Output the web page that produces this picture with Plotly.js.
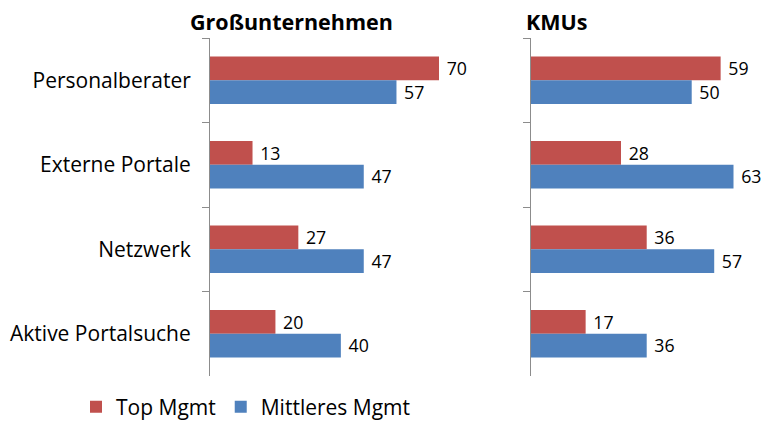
<!DOCTYPE html>
<html>
<head>
<meta charset="utf-8">
<script src="https://cdn.plot.ly/plotly-3.0.1.min.js"></script>
<style>html,body{margin:0;padding:0;background:#fff;}#chart{width:766px;height:428px;}</style>
</head>
<body>
<div id="chart"></div>
<script>
const categories = ["Personalberater", "Externe Portale", "Netzwerk", "Aktive Portalsuche"];
const grossTop = [70, 13, 27, 20];
const grossMittel = [57, 47, 47, 40];
const kmuTop = [59, 28, 36, 17];
const kmuMittel = [50, 63, 57, 36];
const seriesNames = ["Top Mgmt", "Mittleres Mgmt"];
const panelTitles = ["Großunternehmen", "KMUs"];

const RED = "#C0504D", BLUE = "#4F81BD";
const FONT = "Open Sans, Noto Sans, sans-serif";
const W = 766;

function bar(x, name, color, xa, ya, show) {
  return {
    type: "bar", orientation: "h", y: categories, x: x, name: name,
    marker: {color: color}, xaxis: xa, yaxis: ya, showlegend: show,
    text: x.map(v => " " + v), textposition: "outside", cliponaxis: false,
    textfont: {family: FONT, size: 21, color: "#000"}, hoverinfo: "skip"
  };
}

const data = [
  bar(grossTop, seriesNames[0], RED, "x", "y", true),
  bar(grossMittel, seriesNames[1], BLUE, "x", "y", true),
  bar(kmuTop, seriesNames[0], RED, "x2", "y2", false),
  bar(kmuMittel, seriesNames[1], BLUE, "x2", "y2", false)
];

const yaxisBase = {
  autorange: "reversed", showline: true, linecolor: "#8c8c8c", linewidth: 1,
  ticks: "outside", tickson: "boundaries", ticklen: 7, tickcolor: "#8c8c8c",
  showgrid: false, zeroline: false, fixedrange: true,
  tickfont: {family: FONT, size: 21, color: "#000"}
};

const layout = {
  width: 766, height: 428,
  margin: {l: 0, r: 0, t: 38, b: 48},
  paper_bgcolor: "#fff", plot_bgcolor: "#fff",
  barmode: "group", bargap: 0.44, bargroupgap: 0,
  font: {family: FONT, color: "#000"},
  xaxis: {domain: [210 / W, 439 / W], range: [0, 70], visible: false, fixedrange: true},
  xaxis2: {domain: [531 / W, 756 / W], range: [0, 70], visible: false, fixedrange: true},
  yaxis: Object.assign({}, yaxisBase, {anchor: "x", ticklabelstandoff: 14}),
  yaxis2: Object.assign({}, yaxisBase, {anchor: "x2", showticklabels: false}),
  legend: {
    orientation: "h", x: 76 / W, xanchor: "left", y: -0.092, yanchor: "middle",
    font: {family: FONT, size: 21, color: "#000"}, traceorder: "normal",
    itemwidth: 30, tracegroupgap: 0
  },
  annotations: [
    {text: "<b>" + panelTitles[0] + "</b>", xref: "paper", yref: "paper", x: 291 / W, y: 1.05,
     xanchor: "center", yanchor: "middle", showarrow: false, font: {family: FONT, size: 21.5, color: "#000"}},
    {text: "<b>" + panelTitles[1] + "</b>", xref: "paper", yref: "paper", x: 524 / W, y: 1.05,
     xanchor: "left", yanchor: "middle", showarrow: false, font: {family: FONT, size: 21.5, color: "#000"}}
  ]
};

Plotly.newPlot("chart", data, layout, {displayModeBar: false, staticPlot: true});
</script>
</body>
</html>
